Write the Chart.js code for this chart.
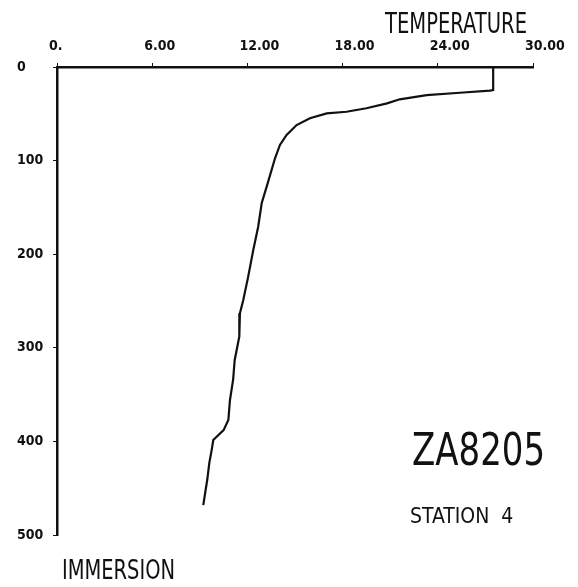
<!DOCTYPE html>
<html>
<head>
<meta charset="utf-8">
<title>ZA8205 station 4</title>
<script src="https://cdn.jsdelivr.net/npm/chart.js@4/dist/chart.umd.min.js"></script>
<style>
  html, body { margin: 0; padding: 0; background: #fff; }
  canvas { display: block; }
</style>
</head>
<body>
<canvas id="c" width="578" height="587"></canvas>
<script>
// profile: depth (m) and temperature (deg C)
const depth = [0, 24.6, 25.3, 27.5, 30, 34.5, 38.8, 44.1, 47.8, 49.5, 54.8, 62, 72.6, 83.3, 97.5,
  123, 145.6, 170.6, 195.5, 224, 249, 263, 288, 313, 334, 356, 377, 388, 398.5, 409, 423, 441, 457, 468];
const temperature = [27.49, 27.49, 27.28, 25.39, 23.3, 21.6, 20.8, 19.5, 18.25, 17.0, 15.94, 15.1, 14.47, 14.05, 13.74,
  13.3, 12.9, 12.68, 12.37, 12.05, 11.74, 11.53, 11.49, 11.2, 11.1, 10.9, 10.8, 10.5, 9.85, 9.75, 9.6, 9.47, 9.32, 9.22];

const tempTicks = [0, 6, 12, 18, 24, 30];
const tempTickLabels = ['0.', '6.00', '12.00', '18.00', '24.00', '30.00'];
const depthTicks = [0, 100, 200, 300, 400, 500];

const tickFont = { family: "'Liberation Sans Narrow', 'DejaVu Sans Condensed', sans-serif", size: 14, weight: 'bold' };
const plotFont = "'DejaVu Sans Condensed', 'DejaVu Sans', sans-serif";

// free text of the plot, drawn squeezed to the plotter's widths
const notes = [
  { text: 'TEMPERATURE', x: 385, y: 33, size: 28, w: 142 },
  { text: 'IMMERSION', x: 62, y: 579, size: 27, w: 113 },
  { text: 'ZA8205', x: 412, y: 465, size: 44, w: 133 },
  { text: 'STATION  4', x: 410, y: 523, size: 21, w: 123 },
];

const notesPlugin = {
  id: 'notes',
  afterDraw(chart) {
    const ctx = chart.ctx;
    ctx.save();
    ctx.fillStyle = '#111';
    ctx.textAlign = 'left';
    ctx.textBaseline = 'alphabetic';
    for (const n of notes) {
      ctx.font = n.size + 'px ' + plotFont;
      ctx.fillText(n.text, n.x, n.y, n.w);
    }
    ctx.restore();
  }
};

const points = depth.map((d, i) => ({ x: temperature[i], y: d }));

new Chart(document.getElementById('c'), {
  type: 'scatter',
  data: {
    datasets: [{
      data: points,
      showLine: true,
      borderColor: '#111',
      borderWidth: 2.2,
      pointRadius: 0,
      tension: 0,
      fill: false
    }]
  },
  options: {
    responsive: false,
    animation: false,
    layout: { padding: { left: 17, top: 0, right: 45, bottom: 52 } },
    plugins: { legend: { display: false }, tooltip: { enabled: false } },
    scales: {
      x: {
        type: 'linear',
        position: 'top',
        min: 0,
        max: 30,
        afterBuildTicks: (s) => { s.ticks = tempTicks.map(v => ({ value: v })); },
        afterFit: (s) => { s.height = 67; s.paddingLeft = 0; s.paddingRight = 0; },
        grid: { drawOnChartArea: false, drawTicks: true, tickLength: 4, color: '#111' },
        border: { display: true, color: '#111', width: 2.5 },
        ticks: {
          color: '#111',
          font: tickFont,
          align: 'start',
          labelOffset: -8,
          padding: 8,
          maxRotation: 0,
          callback: (v) => tempTickLabels[tempTicks.indexOf(v)]
        }
      },
      y: {
        type: 'linear',
        reverse: true,
        min: 0,
        max: 500,
        afterBuildTicks: (s) => { s.ticks = depthTicks.map(v => ({ value: v })); },
        afterFit: (s) => { s.width = 40; s.paddingTop = 0; s.paddingBottom = 0; },
        grid: { drawOnChartArea: false, drawTicks: true, tickLength: 4, color: '#111' },
        border: { display: true, color: '#111', width: 2.5 },
        ticks: { color: '#111', font: tickFont, crossAlign: 'far', padding: 4 }
      }
    }
  },
  plugins: [notesPlugin]
});
</script>
</body>
</html>
